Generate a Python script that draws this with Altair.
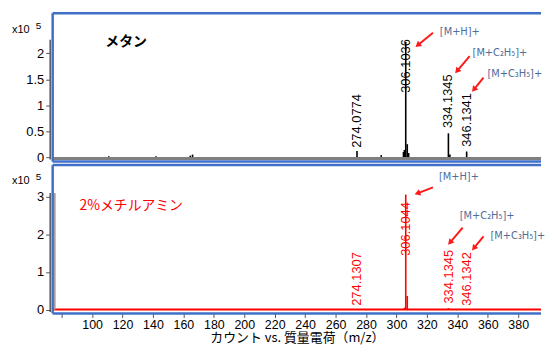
import math
import altair as alt
import pandas as pd

# ---------------- data ----------------
x_ticks = [80, 100, 120, 140, 160, 180, 200, 220, 240, 260, 280, 300, 320, 340, 360, 380]

top_title = "メタン"
top_yticks = [0, 0.5, 1, 1.5, 2]
top_mz = [111.0, 142.0, 164.5, 166.0, 274.08, 290.0, 304.6, 305.2, 306.10, 307.1, 308.0, 334.13, 335.1, 346.13]
top_int = [0.02, 0.02, 0.03, 0.05, 0.12, 0.04, 0.10, 0.14, 2.22, 0.25, 0.08, 0.46, 0.05, 0.11]
top_lbl = ["274.0774", "306.1036", "334.1345", "346.1341"]
top_lbl_mz = [274.08, 306.10, 334.13, 346.6]
top_lbl_v = [0.18, 1.24, 0.56, 0.20]
top_ann = ["[M+H]+", "[M+C₂H₅]+", "[M+C₃H₅]+"]
top_ann_mz = [328.5, 350.0, 359.8]
top_ann_v = [2.415, 2.0, 1.607]
top_arr_x1 = [324.0, 348.1, 357.2]
top_arr_v1 = [2.397, 1.945, 1.532]
top_arr_x2 = [312.2, 338.3, 349.4]
top_arr_v2 = [2.115, 1.607, 1.25]

bot_title = "2%メチルアミン"
bot_yticks = [0, 1, 2, 3]
bot_mz = [305.3, 306.10, 307.1, 334.13, 346.13]
bot_int = [0.05, 3.06, 0.36, 0.04, 0.02]
bot_lbl = ["274.1307", "306.1044", "334.1345", "346.1342"]
bot_lbl_mz = [274.0, 306.10, 334.6, 346.6]
bot_lbl_v = [0.10, 1.43, 0.16, 0.10]
bot_ann = ["[M+H]+", "[M+C₂H₅]+", "[M+C₃H₅]+"]
bot_ann_mz = [327.9, 341.6, 361.8]
bot_ann_v = [3.53, 2.49, 1.97]
bot_arr_x1 = [324.0, 343.5, 357.2]
bot_arr_v1 = [3.25, 2.18, 1.95]
bot_arr_x2 = [311.6, 333.7, 349.4]
bot_arr_v2 = [3.06, 1.71, 1.56]

x_title = "カウント vs. 質量電荷（m/z）"

# ---------------- layout / style ----------------
X_DOMAIN = [74.1, 395.0]
TOP_Y = [-0.085, 2.773]
BOT_Y = [-0.104, 3.844]
W, H = 492, 149.5
BLUE = "#3f6fc6"
ANN = "#4f6d9b"
NUM_FONT = "Liberation Sans"
ANN_FONT = "DejaVu Sans Condensed, Roboto, Liberation Sans"
JP_FONT = "Noto Sans CJK JP"


def panel(ydom, yticks, mz, inten, color, lbl, lbl_mz, lbl_v, ann, ann_mz, ann_v,
          ax1, av1, ax2, av2, title, title_color, title_weight, title_pos,
          base_color, base_w, base_v, dom_top, extra_bar, x_axis):
    sx = W / (X_DOMAIN[1] - X_DOMAIN[0])
    sy = H / (ydom[1] - ydom[0])

    yaxis = alt.Axis(values=yticks, labelExpr="format(datum.value, '~g')", domain=False,
                     grid=False, ticks=True, tickColor="#555555", tickSize=4, offset=3,
                     labelFont=NUM_FONT, labelFontSize=13, labelColor="black", labelPadding=2,
                     title=None)

    def xs(field):
        return alt.X(field, type="quantitative",
                     scale=alt.Scale(domain=X_DOMAIN, nice=False, zero=False), axis=x_axis)

    def ys(field):
        return alt.Y(field, type="quantitative",
                     scale=alt.Scale(domain=ydom, nice=False, zero=False), axis=yaxis)

    peaks = pd.DataFrame({"mz": mz, "v": inten, "b": [0.0] * len(mz)})
    labels = pd.DataFrame({"mz": lbl_mz, "v": lbl_v, "t": lbl})
    anns = pd.DataFrame({"mz": ann_mz, "v": ann_v, "t": ann})

    rows = []
    for x1, v1, x2, v2 in zip(ax1, av1, ax2, av2):
        dxp = (x2 - x1) * sx
        dyp = -(v2 - v1) * sy
        n = math.hypot(dxp, dyp)
        ux, uy = dxp / n, dyp / n
        ang = math.degrees(math.atan2(ux, -uy)) % 360
        cx = x2 - ux * 3.5 / sx
        cv = v2 + uy * 3.5 / sy
        rows.append({"x1": x1, "v1": v1, "cx": cx, "cv": cv, "ang": ang})
    arr = pd.DataFrame(rows)

    peak_layer = alt.Chart(peaks).mark_rule(color=color, strokeWidth=1.6).encode(
        x=xs("mz"), y=ys("v"), y2="b")

    baseline = alt.Chart(pd.DataFrame({"v": [base_v]})).mark_rule(
        color=base_color, strokeWidth=base_w).encode(
        x=alt.value(0), x2=alt.value(W), y=ys("v"))

    lbl_layer = alt.Chart(labels).mark_text(
        angle=270, align="left", baseline="middle", font=NUM_FONT, fontSize=13,
        color=color).encode(x=xs("mz"), y=ys("v"), text="t")

    ann_layer = alt.Chart(anns).mark_text(
        align="left", baseline="middle", font=ANN_FONT, fontSize=11,
        color=ANN).encode(x=xs("mz"), y=ys("v"), text="t")

    arr_line = alt.Chart(arr).mark_rule(color="#ff1a1a", strokeWidth=2).encode(
        x=xs("x1"), y=ys("v1"), x2="cx", y2="cv")
    arr_head = alt.Chart(arr).mark_point(
        shape="triangle-up", filled=True, color="#ff1a1a", size=45, opacity=1).encode(
        x=xs("cx"), y=ys("cv"), angle=alt.Angle("ang:Q", scale=None))

    title_layer = alt.Chart(pd.DataFrame({"t": [title]})).mark_text(
        align="left", baseline="middle", font=JP_FONT, fontSize=14,
        fontWeight=title_weight, color=title_color).encode(
        x=alt.value(title_pos[0]), y=alt.value(title_pos[1]), text="t")

    x10 = alt.Chart(pd.DataFrame({"t": ["x10"]})).mark_text(
        align="left", baseline="middle", font=NUM_FONT, fontSize=11, color="black").encode(
        x=alt.value(-41), y=alt.value(16.5), text="t")
    exp5 = alt.Chart(pd.DataFrame({"t": ["5"]})).mark_text(
        align="left", baseline="middle", font=NUM_FONT, fontSize=10, color="black").encode(
        x=alt.value(-17), y=alt.value(12.5), text="t")

    dom = alt.Chart(pd.DataFrame({"a": [ydom[0] + 0.04], "b": [dom_top]})).mark_rule(
        color="#555555", strokeWidth=1.5).encode(
        x=alt.value(-2.5), y=ys("a"), y2="b")

    layers = [peak_layer, baseline, lbl_layer, ann_layer, arr_line, arr_head,
              title_layer, x10, exp5, dom]
    if extra_bar:
        bar = alt.Chart(pd.DataFrame({"a": [0.0], "b": [dom_top]})).mark_rule(
            color="#a0a0a0", strokeWidth=2).encode(
            x=alt.value(2), y=ys("a"), y2="b")
        layers.append(bar)

    one = pd.DataFrame({"d": [0]})
    border = [
        alt.Chart(one).mark_rule(color=BLUE, strokeWidth=2.5).encode(
            x=alt.value(0), x2=alt.value(W), y=alt.value(0)),
        alt.Chart(one).mark_rule(color=BLUE, strokeWidth=2.5).encode(
            x=alt.value(0), y=alt.value(0), y2=alt.value(H)),
        alt.Chart(one).mark_rule(color=BLUE, strokeWidth=2.5).encode(
            x=alt.value(0), x2=alt.value(W), y=alt.value(H)),
    ]
    return alt.layer(*layers, *border).properties(width=W, height=H)


xaxis = alt.Axis(values=x_ticks, labelExpr="datum.value == 80 ? '' : datum.value",
                 domain=False, grid=False, tickColor="#555555", tickSize=4,
                 labelFont=NUM_FONT, labelFontSize=12.5, labelColor="black", labelPadding=1,
                 title=x_title, titleFont=JP_FONT, titleFontSize=13, titleFontWeight="normal",
                 titleColor="black", titlePadding=1)

top = panel(TOP_Y, top_yticks, top_mz, top_int, "black", top_lbl, top_lbl_mz, top_lbl_v,
            top_ann, top_ann_mz, top_ann_v, top_arr_x1, top_arr_v1, top_arr_x2, top_arr_v2,
            top_title, "black", "bold", (53, 29), "#7f7f7f", 3, -0.025, 2.26, False, None)
bottom = panel(BOT_Y, bot_yticks, bot_mz, bot_int, "#ff0000", bot_lbl, bot_lbl_mz, bot_lbl_v,
               bot_ann, bot_ann_mz, bot_ann_v, bot_arr_x1, bot_arr_v1, bot_arr_x2, bot_arr_v2,
               bot_title, "#ff0000", "normal", (27, 41), "#ff0000", 2, 0.0, 3.1, True, xaxis)

chart = alt.vconcat(top, bottom, spacing=3, bounds="flush").resolve_scale(
    x="independent", y="independent").properties(
    padding={"left": 4, "top": 2, "right": 0, "bottom": 0}
).configure_view(stroke=None)

chart.save("out.html", embed_options={"renderer": "svg", "actions": False})
